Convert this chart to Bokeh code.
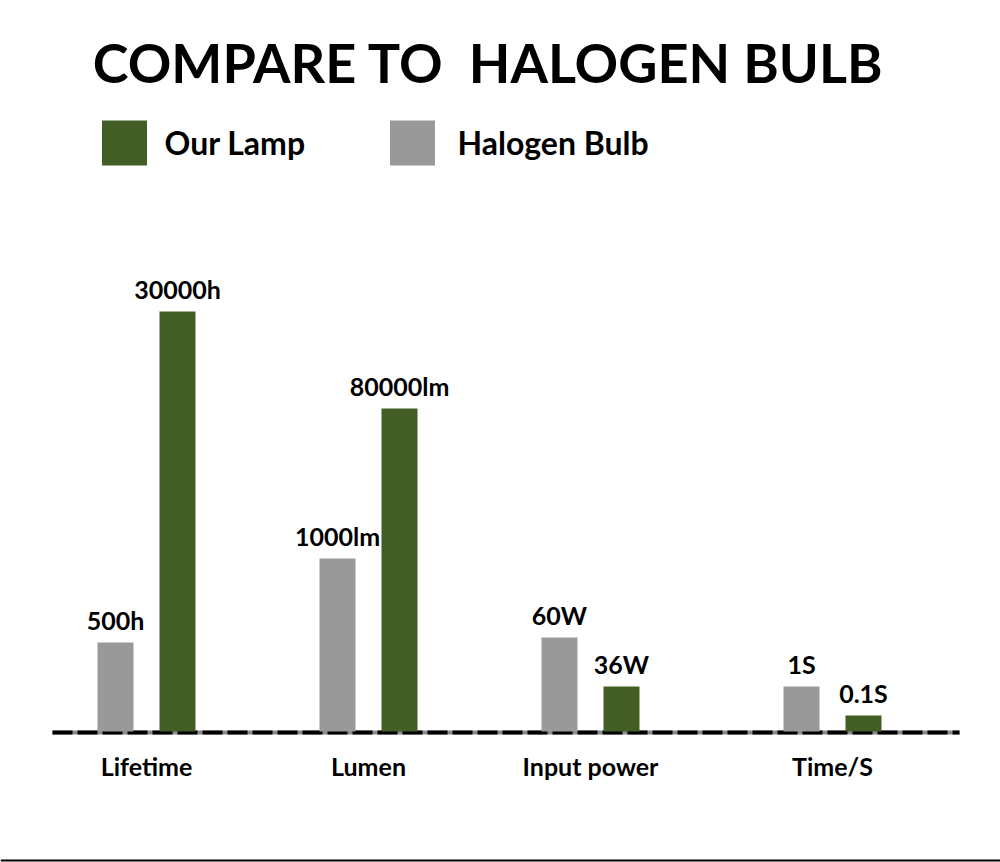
from bokeh.plotting import figure
from bokeh.models import Range1d, ColumnDataSource
from bokeh.core.properties import value
from bokeh.embed import file_html
from bokeh.resources import INLINE

# ---- data ----
categories = ["Lifetime", "Lumen", "Input power", "Time/S"]
halogen_labels = ["500h", "1000lm", "60W", "1S"]
our_labels = ["30000h", "80000lm", "36W", "0.1S"]
# relative display heights of the bars as drawn in the infographic
halogen_heights = [90, 174, 95, 46]
our_heights = [421, 324, 46, 17]

title_text = "COMPARE TO\u00a0\u00a0HALOGEN BULB"
legend_labels = ["Our Lamp", "Halogen Bulb"]

GREEN = "#435e25"
GRAY = "#999999"
FONT = "Lato"

W, H = 1000, 862
BASE = 732  # baseline pixel row from top

p = figure(width=W, height=H, output_backend="svg", toolbar_location=None,
           x_range=Range1d(0, W), y_range=Range1d(BASE - H, BASE),
           min_border=0, outline_line_color=None)
p.axis.visible = False
p.grid.visible = False
p.background_fill_color = "white"
p.border_fill_color = "white"

def py(pix):
    return BASE - pix

group_x = [146, 368, 590, 832]
off = 31
bw = 36
gx = [g - off for g in group_x]
ox = [g + off for g in group_x]

# baseline: gray underline + black dashes
p.line([52, 959], [0, 0], line_color="#8a8a8a", line_width=4)
p.line([52, 959], [0, 0], line_color="black", line_width=4, line_dash="20 5")

src_h = ColumnDataSource(dict(x=gx, top=halogen_heights, lab=halogen_labels))
src_o = ColumnDataSource(dict(x=ox, top=our_heights, lab=our_labels))
p.vbar(x="x", top="top", bottom=1, width=bw, source=src_h, fill_color=GRAY, line_color=None)
p.vbar(x="x", top="top", bottom=1, width=bw, source=src_o, fill_color=GREEN, line_color=None)

for src in (src_h, src_o):
    p.text(x="x", y="top", text="lab", source=src, y_offset=-8,
           text_align="center", text_baseline="bottom",
           text_font=value(FONT), text_font_style="bold",
           text_font_size="25px", text_color="black")

# category labels
p.text(x=group_x, y=[py(765)] * len(categories), text=categories,
       text_align="center", text_baseline="alphabetic",
       text_font=value(FONT), text_font_style="bold",
       text_font_size="25px", text_color="black")

# title
p.text(x=[488], y=[py(62)], text=[title_text], text_align="center",
       text_baseline="alphabetic", text_font=value(FONT), text_font_style="bold",
       text_font_size="54px", text_color="black")

# legend
leg_sq_x = [124, 412]
leg_cols = [GREEN, GRAY]
p.rect(x=leg_sq_x, y=[py(142.5)] * 2, width=45, height=45,
       fill_color=leg_cols, line_color=None)
p.text(x=[164, 457], y=[py(142)] * 2, text=legend_labels,
       text_align="left", text_baseline="alphabetic",
       text_font=value(FONT), text_font_style="bold",
       text_font_size="32px", text_color="black")

# bottom rule
p.line([0, W], [py(860), py(860)], line_color="black", line_width=2)

open("out.html", "w").write(file_html(p, INLINE))
